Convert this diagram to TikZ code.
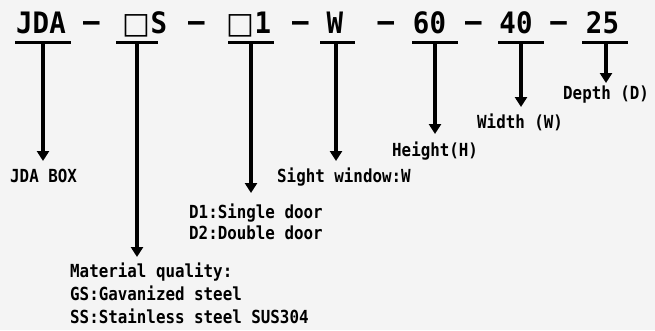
\documentclass[tikz,border=0pt]{standalone}
\usepackage{fontspec}
\usetikzlibrary{arrows.meta}
\newfontfamily\bigf{DejaVu Sans Mono Bold}[FakeStretch=0.93]
\newfontfamily\boxf{DejaVu Sans}
\newfontfamily\labf{DejaVu Sans Mono Bold}[FakeStretch=0.88]
\definecolor{bg}{RGB}{244,244,244}
\tikzset{
  big/.style={font=\bigf\fontsize{29.5}{30}\selectfont, inner sep=0pt, anchor=base},
  lab/.style={font=\labf\fontsize{18}{23}\selectfont, inner sep=0pt, anchor=base west, align=left},
  uline/.style={line width=3.4pt},
  arr/.style={line width=3.4pt, -{Triangle[width=12pt,length=10pt]}}
}
\begin{document}
\begin{tikzpicture}[x=1pt,y=-1pt]
\fill[bg] (0,0) rectangle (655,330);
\useasboundingbox (0,0) rectangle (655,330);
% top code
\node[big] (c1) at (41,33) {JDA};
\node[big] (d1) at (91.5,31) {–};
\node[big] (c2) at (145,33) {{\boxf □}S};
\node[big] (d2) at (196.5,31) {–};
\node[big] (c3) at (249,33) {{\boxf □}1};
\node[big] (d3) at (300.5,31) {–};
\node[big] (c4) at (335,33) {W};
\node[big] (d4) at (386,31) {–};
\node[big] (c5) at (429.5,33) {60};
\node[big] (d5) at (473.5,31) {–};
\node[big] (c6) at (516,33) {40};
\node[big] (d6) at (558.5,31) {–};
\node[big] (c7) at (602.5,33) {25};
% underlines
\draw[uline] (15,42.5) -- (71,42.5) coordinate[pos=0.5] (u1);
\draw[uline] (116,42.5) -- (158,42.5) coordinate[pos=0.5] (u2);
\draw[uline] (228,42.5) -- (274,42.5) coordinate[pos=0.5] (u3);
\draw[uline] (320,42.5) -- (355,42.5) coordinate[pos=0.5] (u4);
\draw[uline] (412,42.5) -- (458,42.5) coordinate[pos=0.5] (u5);
\draw[uline] (498,42.5) -- (544,42.5) coordinate[pos=0.5] (u6);
\draw[uline] (582,42.5) -- (628,42.5) coordinate[pos=0.5] (u7);
% labels (base anchor = baseline of last line)
\node[lab] (l1) at (10,182.5) {JDA BOX};
\node[lab] (l2) at (70,323) {Material quality:\\GS:Gavanized steel\\SS:Stainless steel SUS304};
\node[lab, font=\labf\fontsize{18}{21.5}\selectfont] (l3) at (189,239.5) {D1:Single door\\D2:Double door};
\node[lab] (l4) at (277,182.5) {Sight window:W};
\node[lab] (l5) at (392,156.5) {Height(H)};
\node[lab] (l6) at (477,128.5) {Width (W)};
\node[lab] (l7) at (563,99.5) {Depth (D)};
% arrows
\coordinate (e1) at (43,161);
\coordinate (e2) at (137,257);
\coordinate (e3) at (251,193);
\coordinate (e4) at (336,161);
\coordinate (e5) at (435,134);
\coordinate (e6) at (521,107);
\coordinate (e7) at (606,83);
\draw[arr] (u1 -| e1) -- (e1);
\draw[arr] (u2 -| e2) -- (e2);
\draw[arr] (u3 -| e3) -- (e3);
\draw[arr] (u4 -| e4) -- (e4);
\draw[arr] (u5 -| e5) -- (e5);
\draw[arr] (u6 -| e6) -- (e6);
\draw[arr] (u7 -| e7) -- (e7);
\end{tikzpicture}
\end{document}
